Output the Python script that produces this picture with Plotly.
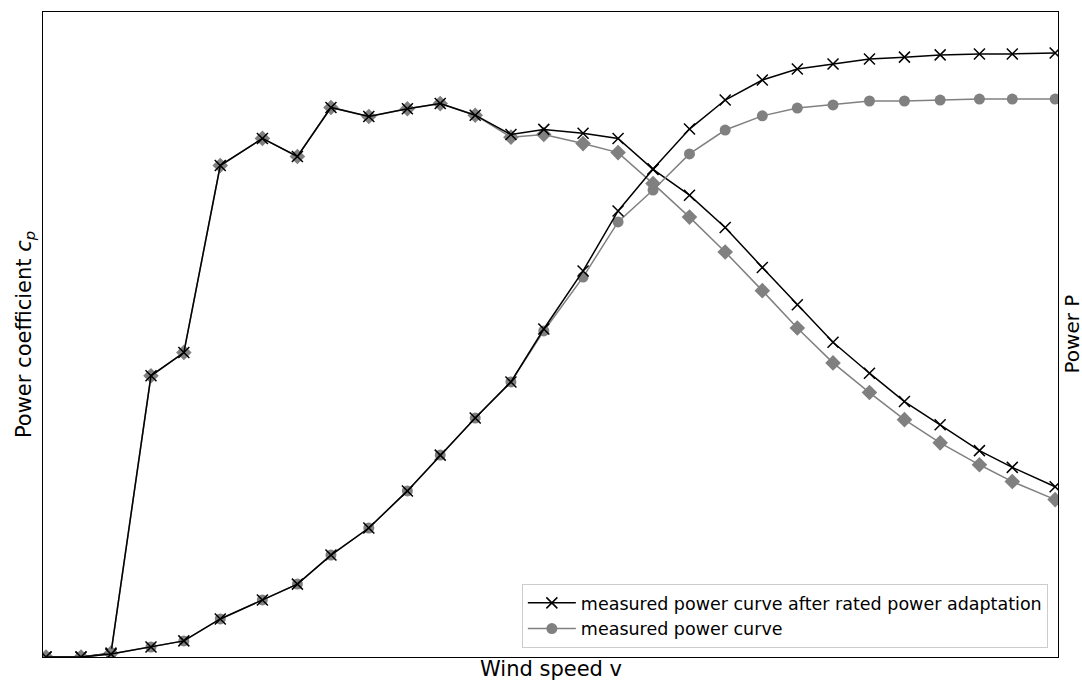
import plotly.graph_objects as go

# Wind speed bins (m/s)
wind = [2.50, 2.99, 3.41, 3.97, 4.43, 4.94, 5.53, 6.02, 6.49, 7.02, 7.56, 8.02,
        8.51, 9.01, 9.47, 10.02, 10.51, 11.00, 11.51, 12.01, 12.53, 13.02,
        13.52, 14.03, 14.52, 15.02, 15.57, 16.03, 16.63]

# Power coefficient cp
cp_measured = [0.0, 0.0, 0.003, 0.218, 0.236, 0.381, 0.402, 0.388, 0.426, 0.419,
               0.425, 0.429, 0.420, 0.403, 0.405, 0.398, 0.391, 0.367, 0.341,
               0.314, 0.284, 0.255, 0.228, 0.205, 0.184, 0.166, 0.149, 0.136, 0.122]
cp_adapted = [0.0, 0.0, 0.003, 0.218, 0.236, 0.381, 0.402, 0.388, 0.426, 0.419,
              0.425, 0.429, 0.420, 0.405, 0.409, 0.406, 0.402, 0.378, 0.358,
              0.333, 0.302, 0.273, 0.244, 0.220, 0.198, 0.180, 0.160, 0.147, 0.132]

# Power P (kW)
p_measured = [0, 0, 9, 31, 50, 118, 177, 226, 316, 400, 515, 626, 741, 853, 1011,
              1178, 1349, 1448, 1560, 1634, 1678, 1702, 1712, 1724, 1724, 1727,
              1730, 1730, 1730]
p_adapted = [0, 0, 9, 31, 50, 118, 177, 226, 316, 400, 515, 626, 741, 853, 1017,
             1197, 1383, 1513, 1637, 1727, 1789, 1823, 1839, 1854, 1860, 1867,
             1870, 1870, 1873]

legend_adapted = "measured power curve after rated power adaptation"
legend_measured = "measured power curve"
x_title = "Wind speed v"
y_title = "Power coefficient <i>c</i><sub><i>p</i></sub>"
y2_title = "Power P"

GRAY = "#808080"
BLACK = "#000000"
FONT = "DejaVu Sans"

fig = go.Figure()

# cp curves (left axis)
fig.add_trace(go.Scatter(x=wind, y=cp_measured, mode="lines+markers", showlegend=False,
                         line=dict(color=GRAY, width=1.5),
                         marker=dict(symbol="diamond", size=12, color=GRAY),
                         yaxis="y"))
fig.add_trace(go.Scatter(x=wind, y=cp_adapted, mode="lines+markers", showlegend=False,
                         line=dict(color=BLACK, width=1.5),
                         marker=dict(symbol="x-thin", size=11, line=dict(color=BLACK, width=1.5)),
                         yaxis="y"))

# power curves (right axis)
fig.add_trace(go.Scatter(x=wind, y=p_measured, mode="lines+markers", name=legend_measured,
                         line=dict(color=GRAY, width=1.5),
                         marker=dict(symbol="circle", size=11, color=GRAY),
                         yaxis="y2", legendrank=2))
fig.add_trace(go.Scatter(x=wind, y=p_adapted, mode="lines+markers", name=legend_adapted,
                         line=dict(color=BLACK, width=1.5),
                         marker=dict(symbol="x-thin", size=11, line=dict(color=BLACK, width=1.5)),
                         yaxis="y2", legendrank=1))

fig.update_layout(
    width=1082, height=682,
    margin=dict(l=43, r=24, t=12, b=25),
    paper_bgcolor="white", plot_bgcolor="white",
    font=dict(family=FONT, size=21, color="black"),
    xaxis=dict(range=[2.458, 16.67], showgrid=False, zeroline=False,
               showticklabels=False, ticks="",
               showline=True, linecolor="black", linewidth=1.2, mirror=True,
               automargin=False),
    yaxis=dict(range=[0, 0.5], showgrid=False, zeroline=False,
               showticklabels=False, ticks="",
               showline=True, linecolor="black", linewidth=1.2,
               title=dict(text=y_title, standoff=4, font=dict(size=21)),
               automargin=False),
    yaxis2=dict(range=[0, 2000], overlaying="y", side="right", showgrid=False,
                zeroline=False, showticklabels=False, ticks="",
                showline=True, linecolor="black", linewidth=1.2,
                automargin=False),
    legend=dict(x=0.990, y=0.014, xanchor="right", yanchor="bottom",
                bgcolor="white", bordercolor="#cccccc", borderwidth=1,
                font=dict(family=FONT, size=17.5, color="black"),
                traceorder="normal", itemwidth=48, tracegroupgap=0),
    annotations=[
        dict(text=x_title, xref="paper", yref="paper", x=0.5, y=0,
             xanchor="center", yanchor="top", yshift=2, showarrow=False,
             font=dict(family=FONT, size=21, color="black")),
        dict(text=y2_title, xref="paper", yref="paper", x=1, y=0.5,
             xanchor="left", yanchor="middle", xshift=-1, textangle=-90,
             showarrow=False, font=dict(family=FONT, size=20, color="black")),
    ],
)

fig.write_html("out.html", config={"displayModeBar": False},
               post_script="document.body.style.margin='0';document.body.style.overflow='hidden';")
